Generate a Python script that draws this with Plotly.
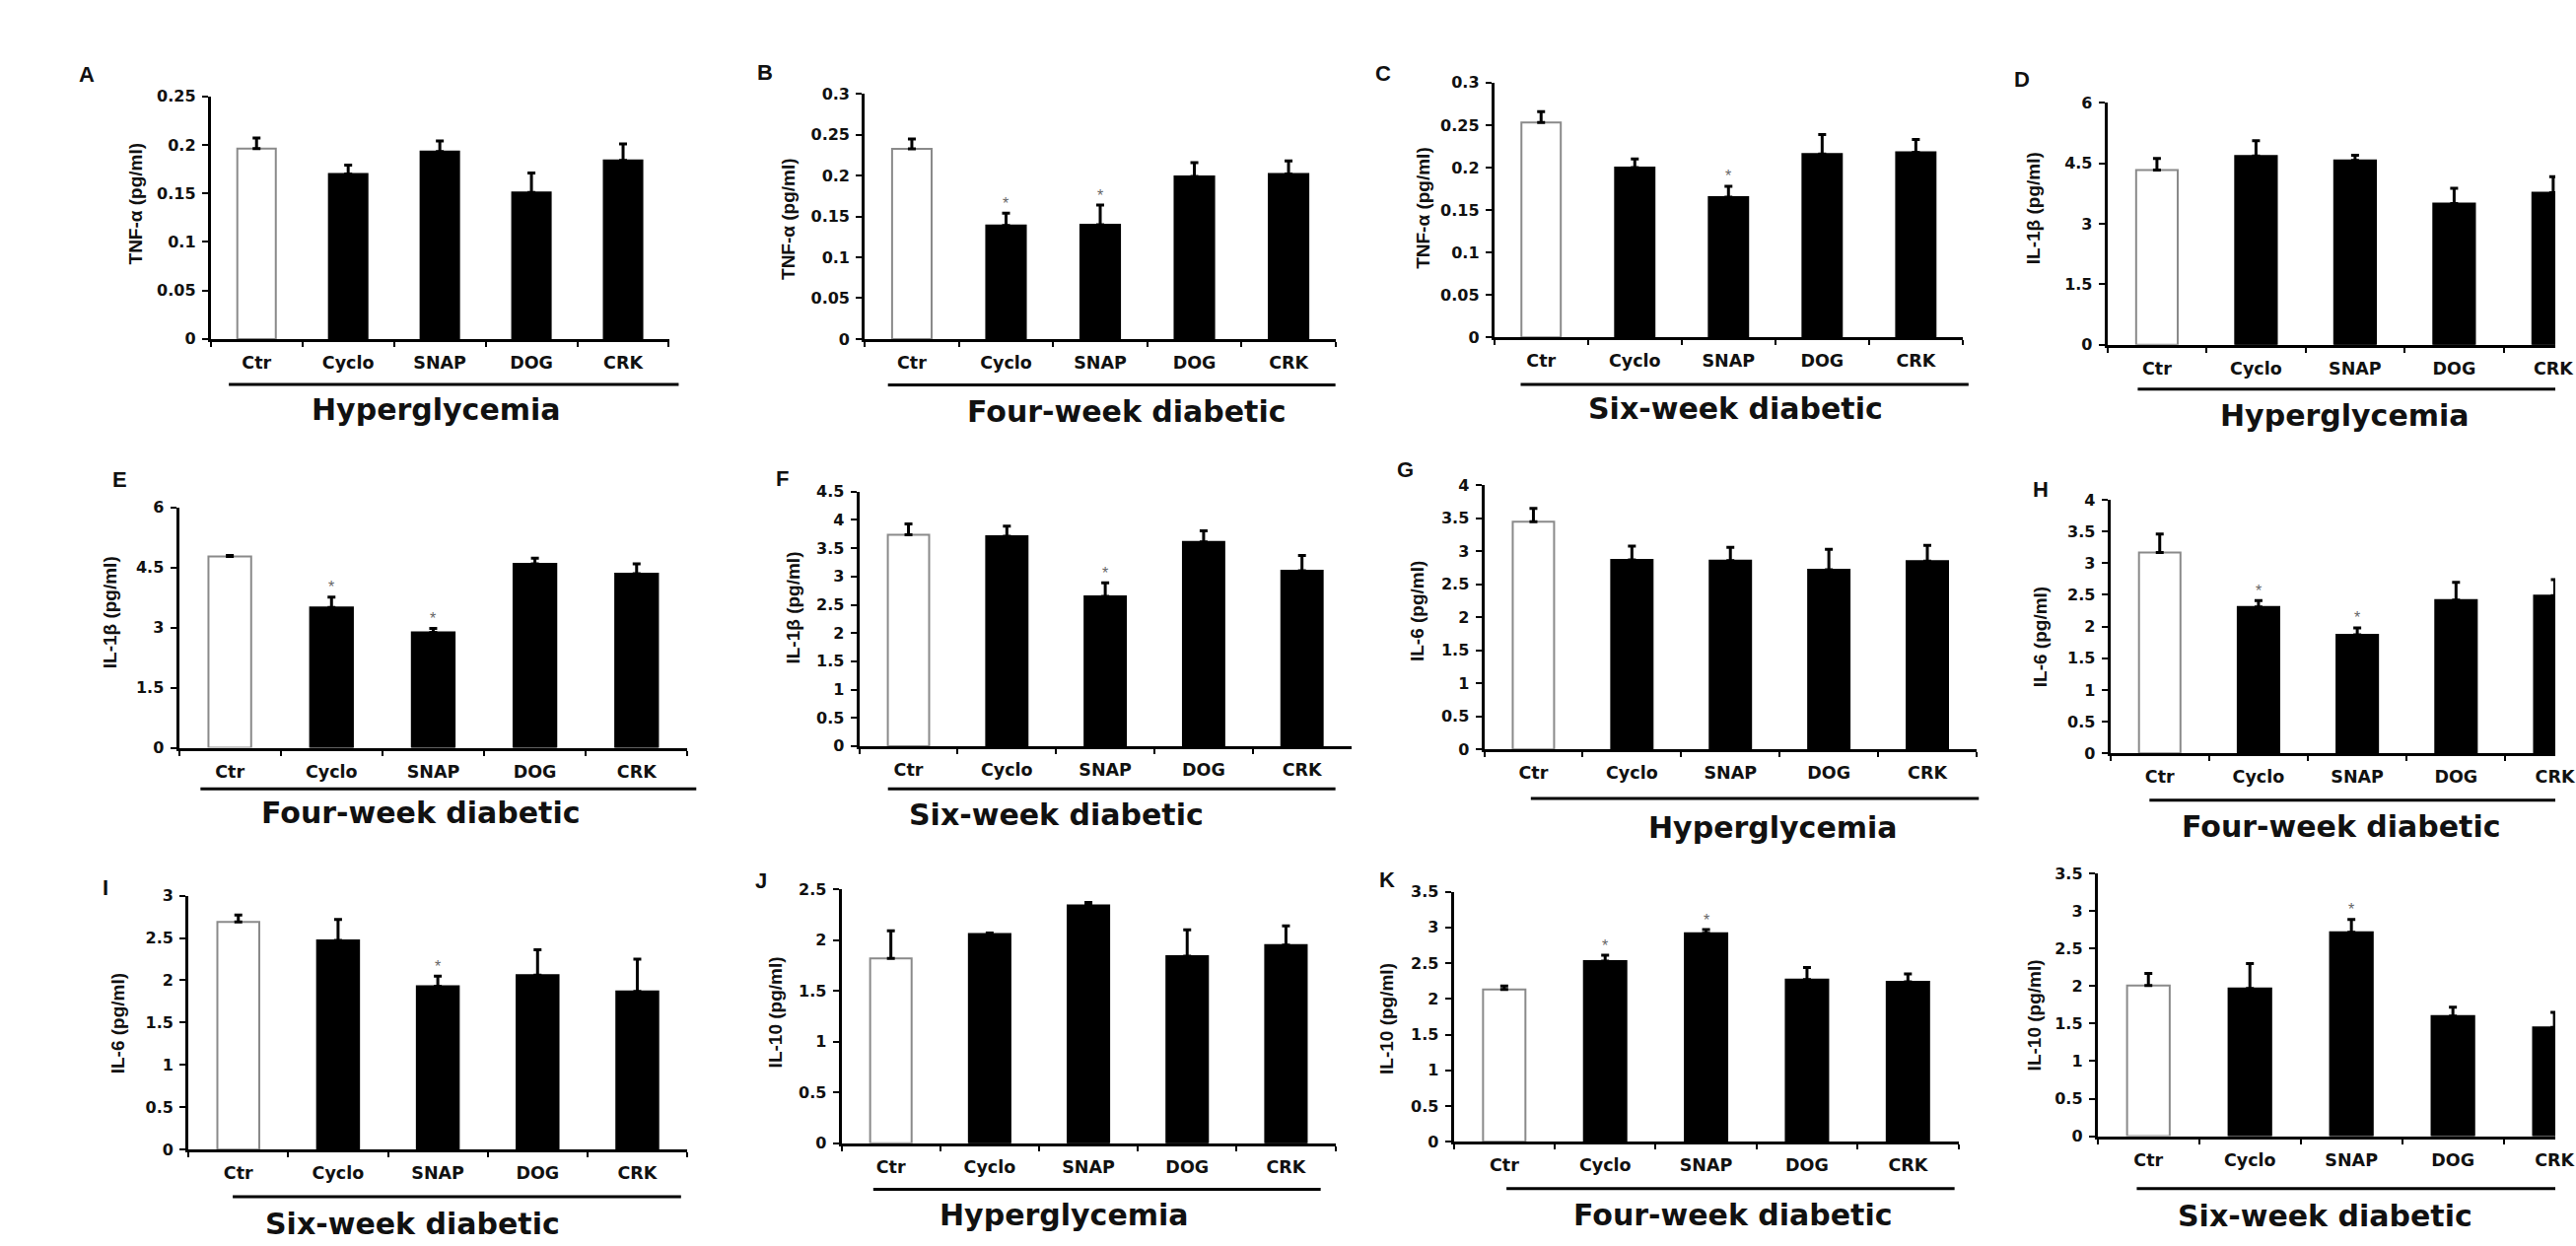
import plotly.graph_objects as go

W, H = 2613, 1264
FONT = "Arial, 'Liberation Sans', sans-serif"
WIDE = "'DejaVu Sans', Verdana, sans-serif"

# ---------------- DATA ----------------
categories = ["Ctr", "Cyclo", "SNAP", "DOG", "CRK"]
panel_letters = ["A", "B", "C", "D", "E", "F", "G", "H", "I", "J", "K", ""]
y_titles = ["TNF-α (pg/ml)"] * 3 + ["IL-1β (pg/ml)"] * 3 + ["IL-6 (pg/ml)"] * 3 + ["IL-10 (pg/ml)"] * 3
group_labels = ["Hyperglycemia", "Four-week diabetic", "Six-week diabetic"] * 4

values_A = [0.196, 0.170, 0.193, 0.151, 0.184]
errors_A = [0.011, 0.009, 0.011, 0.020, 0.017]
values_B = [0.233, 0.139, 0.140, 0.199, 0.202]
errors_B = [0.012, 0.015, 0.024, 0.017, 0.016]
values_C = [0.253, 0.200, 0.165, 0.216, 0.218]
errors_C = [0.013, 0.010, 0.013, 0.023, 0.015]
values_D = [4.33, 4.68, 4.57, 3.50, 3.77]
errors_D = [0.29, 0.38, 0.13, 0.38, 0.40]
values_E = [4.77, 3.50, 2.88, 4.59, 4.34]
errors_E = [0.03, 0.26, 0.10, 0.14, 0.25]
values_F = [3.74, 3.71, 2.65, 3.61, 3.10]
errors_F = [0.19, 0.18, 0.24, 0.20, 0.27]
values_G = [3.45, 2.87, 2.86, 2.72, 2.85]
errors_G = [0.20, 0.21, 0.20, 0.31, 0.24]
values_H = [3.17, 2.31, 1.87, 2.42, 2.49]
errors_H = [0.29, 0.10, 0.11, 0.28, 0.25]
values_I = [2.69, 2.47, 1.93, 2.06, 1.87]
errors_I = [0.08, 0.25, 0.12, 0.30, 0.38]
values_J = [1.82, 2.06, 2.34, 1.84, 1.95]
errors_J = [0.27, 0.01, 0.03, 0.26, 0.19]
values_K = [2.13, 2.53, 2.92, 2.27, 2.24]
errors_K = [0.05, 0.08, 0.05, 0.17, 0.11]
values_L = [2.01, 1.97, 2.72, 1.60, 1.45]
errors_L = [0.16, 0.33, 0.17, 0.12, 0.20]

stars_A = [False, False, False, False, False]
stars_B = [False, True, True, False, False]
stars_C = [False, False, True, False, False]
stars_D = [False, False, False, False, False]
stars_E = [False, True, True, False, False]
stars_F = [False, False, True, False, False]
stars_G = [False, False, False, False, False]
stars_H = [False, True, True, False, False]
stars_I = [False, False, True, False, False]
stars_J = [False, False, False, False, False]
stars_K = [False, True, True, False, False]
stars_L = [False, False, True, False, False]

ticks_025 = [0, 0.05, 0.1, 0.15, 0.2, 0.25]
ticktext_025 = ["0", "0.05", "0.1", "0.15", "0.2", "0.25"]
ticks_03 = [0, 0.05, 0.1, 0.15, 0.2, 0.25, 0.3]
ticktext_03 = ["0", "0.05", "0.1", "0.15", "0.2", "0.25", "0.3"]
ticks_6 = [0, 1.5, 3, 4.5, 6]
ticktext_6 = ["0", "1.5", "3", "4.5", "6"]
ticks_45 = [0, 0.5, 1, 1.5, 2, 2.5, 3, 3.5, 4, 4.5]
ticktext_45 = ["0", "0.5", "1", "1.5", "2", "2.5", "3", "3.5", "4", "4.5"]
ticks_4 = [0, 0.5, 1, 1.5, 2, 2.5, 3, 3.5, 4]
ticktext_4 = ["0", "0.5", "1", "1.5", "2", "2.5", "3", "3.5", "4"]
ticks_3 = [0, 0.5, 1, 1.5, 2, 2.5, 3]
ticktext_3 = ["0", "0.5", "1", "1.5", "2", "2.5", "3"]
ticks_25 = [0, 0.5, 1, 1.5, 2, 2.5]
ticktext_25 = ["0", "0.5", "1", "1.5", "2", "2.5"]
ticks_35 = [0, 0.5, 1, 1.5, 2, 2.5, 3, 3.5]
ticktext_35 = ["0", "0.5", "1", "1.5", "2", "2.5", "3", "3.5"]

panel_values = [values_A, values_B, values_C, values_D, values_E, values_F,
                values_G, values_H, values_I, values_J, values_K, values_L]
panel_errors = [errors_A, errors_B, errors_C, errors_D, errors_E, errors_F,
                errors_G, errors_H, errors_I, errors_J, errors_K, errors_L]
panel_stars = [stars_A, stars_B, stars_C, stars_D, stars_E, stars_F,
               stars_G, stars_H, stars_I, stars_J, stars_K, stars_L]
panel_ticks = [(ticks_025, ticktext_025), (ticks_03, ticktext_03), (ticks_03, ticktext_03),
               (ticks_6, ticktext_6), (ticks_6, ticktext_6), (ticks_45, ticktext_45),
               (ticks_4, ticktext_4), (ticks_4, ticktext_4), (ticks_3, ticktext_3),
               (ticks_25, ticktext_25), (ticks_35, ticktext_35), (ticks_35, ticktext_35)]

# ---------------- LAYOUT (pixel positions) ----------------
panel_pos = [
    dict(xl=215.5, cw=93.7, y0=340, ytop=90, lineY=386.7, lineX=(234, 694), grp=(446, 413), let=(89, 68), yt=(139.6, 200)),
    dict(xl=884.3, cw=96.3, y0=340, ytop=87.7, lineY=387.3, lineX=(908, 1365.6), grp=(1152, 415), let=(782.4, 65), yt=(806, 216.7)),
    dict(xl=1528, cw=95.8, y0=338.3, ytop=76, lineY=386.7, lineX=(1555, 2013), grp=(1775, 411.7), let=(1414, 66.7), yt=(1455.6, 205)),
    dict(xl=2155, cw=101.3, y0=346, ytop=96.7, lineY=391.7, lineX=(2186, 2613), grp=(2398, 418.3), let=(2068, 73), yt=(2080, 205)),
    dict(xl=183, cw=104, y0=761, ytop=513.3, lineY=803.3, lineX=(205, 712), grp=(430, 828.3), let=(122, 485), yt=(111.8, 621.7)),
    dict(xl=878.7, cw=100.6, y0=759.3, ytop=497.3, lineY=803.3, lineX=(908, 1365.6), grp=(1080, 830), let=(799.7, 483.3), yt=(810.6, 616.7)),
    dict(xl=1517.7, cw=100.7, y0=762.7, ytop=490.7, lineY=813.3, lineX=(1565.4, 2023.5), grp=(1813, 843.3), let=(1437, 475), yt=(1449, 620)),
    dict(xl=2158, cw=101, y0=766.7, ytop=505.7, lineY=815, lineX=(2198, 2613), grp=(2394, 841.7), let=(2087, 495), yt=(2087, 646.7)),
    dict(xl=192.7, cw=102, y0=1175, ytop=913.3, lineY=1223.3, lineX=(238, 696.4), grp=(422, 1251.7), let=(107.7, 905), yt=(120, 1045)),
    dict(xl=860.5, cw=101, y0=1168.3, ytop=906.7, lineY=1215.7, lineX=(893, 1350.5), grp=(1088, 1241.7), let=(778, 898.3), yt=(793, 1033.3)),
    dict(xl=1486.6, cw=103.2, y0=1166.7, ytop=909.3, lineY=1215, lineX=(1540.5, 1998.7), grp=(1772, 1241.7), let=(1418, 896.7), yt=(1418, 1040)),
    dict(xl=2145, cw=103.8, y0=1161, ytop=890.7, lineY=1215, lineX=(2185, 2613), grp=(2378, 1243.3), let=(2062, 880), yt=(2080, 1036.7)),
]

fig = go.Figure()
layout = dict(
    width=W, height=H, margin=dict(l=0, r=0, t=0, b=0),
    paper_bgcolor="white", plot_bgcolor="white", showlegend=False,
    bargap=0.58, font=dict(family=FONT, color="black"),
)
annotations = []
shapes = []

for i in range(12):
    p = panel_pos[i]
    n = i + 1
    sfx = "" if n == 1 else str(n)
    vals = panel_values[i]
    errs = panel_errors[i]
    tv, tt = panel_ticks[i]
    ymax = tv[-1]

    x0 = p["xl"] / W
    xend_px = min(W, p["xl"] + 5 * p["cw"])
    x1 = xend_px / W
    rng_end = -0.5 + (xend_px - p["xl"]) / p["cw"]

    fig.add_trace(go.Bar(
        x=categories, y=vals, xaxis="x" + sfx, yaxis="y" + sfx,
        marker=dict(color=["white"] + ["black"] * 4,
                    line=dict(color=["#8a8a8a"] + ["black"] * 4, width=2)),
        error_y=dict(type="data", array=errs, arrayminus=[0] * 5, symmetric=False,
                     color="black", thickness=3, width=4),
        hoverinfo="skip",
    ))

    layout["xaxis" + sfx] = dict(
        domain=[x0, x1], anchor="y" + sfx, type="category",
        range=[-0.5, rng_end], showline=True, linecolor="black", linewidth=3,
        ticks="outside", tickson="boundaries", ticklen=5, tickwidth=2, tickcolor="black",
        tickfont=dict(size=17.5, family=WIDE, color="#111", weight="bold"),
        ticklabelstandoff=6, showgrid=False, zeroline=False, fixedrange=True,
    )
    layout["yaxis" + sfx] = dict(
        domain=[1 - p["y0"] / H, 1 - p["ytop"] / H], anchor="x" + sfx,
        range=[0, ymax], tickvals=tv, ticktext=tt,
        showline=True, linecolor="black", linewidth=3,
        ticks="outside", ticklen=6, tickwidth=2, tickcolor="black",
        tickfont=dict(size=16, family=WIDE, color="#111", weight="bold"),
        ticklabelstandoff=3, showgrid=False, zeroline=False, fixedrange=True,
    )

    for c, v, e, s in zip(categories, vals, errs, panel_stars[i]):
        if s:
            annotations.append(dict(
                x=c, y=v + e, xref="x" + sfx, yref="y" + sfx, text="*",
                showarrow=False, yanchor="middle", yshift=10,
                font=dict(size=16, color="#666", family=FONT),
            ))

    annotations.append(dict(
        x=p["yt"][0] / W, y=1 - p["yt"][1] / H, xref="paper", yref="paper",
        text=y_titles[i], textangle=-90, showarrow=False,
        xanchor="center", yanchor="middle",
        font=dict(size=19, family=FONT, color="#111", weight="bold"),
    ))
    if panel_letters[i]:
        annotations.append(dict(
            x=p["let"][0] / W, y=1 - p["let"][1] / H, xref="paper", yref="paper",
            text=panel_letters[i], showarrow=False, xanchor="center", yanchor="middle",
            font=dict(size=22, family=FONT, color="#111", weight="bold"),
        ))
    annotations.append(dict(
        x=p["grp"][0] / W, y=1 - p["grp"][1] / H, xref="paper", yref="paper",
        text=group_labels[i], showarrow=False, xanchor="center", yanchor="middle",
        font=dict(size=30, family=WIDE, color="#111", weight="bold"),
    ))
    shapes.append(dict(
        type="line", xref="paper", yref="paper",
        x0=p["lineX"][0] / W, x1=p["lineX"][1] / W,
        y0=1 - p["lineY"] / H, y1=1 - p["lineY"] / H,
        line=dict(color="black", width=3),
    ))

layout["annotations"] = annotations
layout["shapes"] = shapes
fig.update_layout(**layout)
fig.write_html(
    "out.html",
    config={"displayModeBar": False},
    post_script="document.body.style.margin='0';document.body.style.overflow='hidden';",
)
